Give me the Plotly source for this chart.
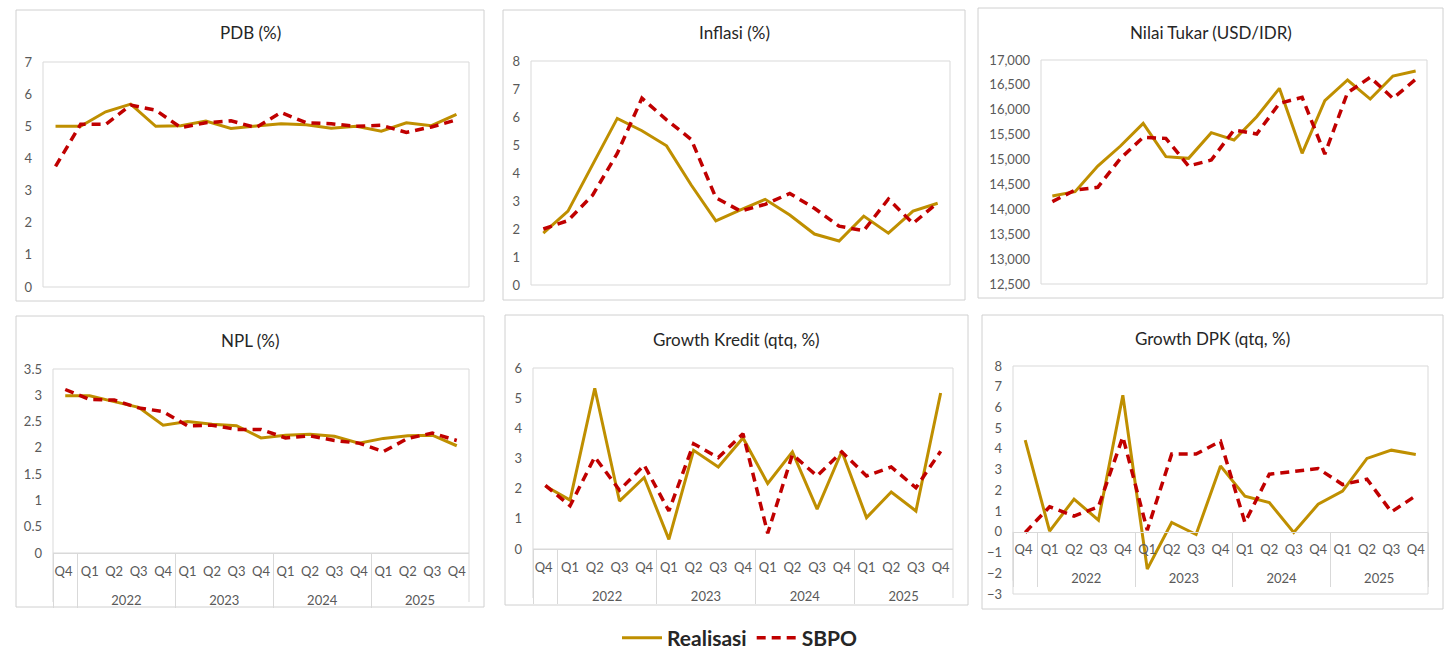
import plotly.graph_objects as go

W, H = 1449, 649

quarters = ["Q4 ", "Q1", "Q2", "Q3", "Q4", "Q1", "Q2", "Q3", "Q4",
            "Q1", "Q2", "Q3", "Q4", "Q1", "Q2", "Q3", "Q4"]
years = [" ", "2022", "2022", "2022", "2022", "2023", "2023", "2023", "2023",
         "2024", "2024", "2024", "2024", "2025", "2025", "2025", "2025"]

pdb_real = [5.00, 5.00, 5.45, 5.69, 5.00, 5.02, 5.16, 4.93, 5.01, 5.08, 5.05, 4.94, 5.00, 4.85, 5.11, 5.02, 5.37]
pdb_sbpo = [3.75, 5.06, 5.06, 5.66, 5.50, 4.96, 5.11, 5.17, 4.96, 5.43, 5.11, 5.08, 5.00, 5.03, 4.81, 4.98, 5.20]

inf_real = [1.85, 2.64, 4.30, 5.95, 5.51, 4.97, 3.57, 2.29, 2.68, 3.06, 2.50, 1.82, 1.57, 2.46, 1.85, 2.64, 2.92]
inf_sbpo = [2.00, 2.30, 3.21, 4.70, 6.67, 5.90, 5.20, 3.12, 2.64, 2.88, 3.27, 2.74, 2.10, 1.94, 3.07, 2.20, 2.94]

fx_real = [14267, 14354, 14870, 15272, 15727, 15058, 15024, 15540, 15393, 15861, 16431, 15125, 16183, 16598, 16216, 16678, 16779]
fx_sbpo = [14154, 14388, 14442, 15024, 15446, 15426, 14870, 14990, 15594, 15513, 16129, 16250, 15111, 16343, 16652, 16230, 16611]

npl_real = [2.99, 2.99, 2.88, 2.77, 2.43, 2.50, 2.45, 2.42, 2.19, 2.24, 2.26, 2.22, 2.09, 2.18, 2.23, 2.24, 2.04]
npl_sbpo = [3.11, 2.92, 2.91, 2.76, 2.69, 2.42, 2.43, 2.35, 2.35, 2.19, 2.23, 2.14, 2.09, 1.93, 2.18, 2.28, 2.14]

kre_real = [2.09, 1.62, 5.33, 1.59, 2.37, 0.32, 3.27, 2.72, 3.68, 2.17, 3.22, 1.32, 3.24, 1.04, 1.89, 1.26, 5.17]
kre_sbpo = [2.11, 1.43, 3.05, 1.95, 2.78, 1.26, 3.49, 3.03, 3.82, 0.52, 3.13, 2.42, 3.22, 2.42, 2.72, 2.03, 3.24]

dpk_real = [4.42, 0.03, 1.58, 0.56, 6.59, -1.80, 0.45, -0.13, 3.18, 1.72, 1.41, -0.03, 1.33, 1.96, 3.54, 3.94, 3.73]
dpk_sbpo = [-0.03, 1.21, 0.76, 1.21, 4.58, 0.08, 3.75, 3.75, 4.37, 0.45, 2.78, 2.93, 3.05, 2.28, 2.54, 0.96, 1.74]

titles = ["PDB (%)", "Inflasi (%)", "Nilai Tukar (USD/IDR)", "NPL (%)", "Growth Kredit (qtq, %)", "Growth DPK (qtq, %)"]
series = [(pdb_real, pdb_sbpo), (inf_real, inf_sbpo), (fx_real, fx_sbpo),
          (npl_real, npl_sbpo), (kre_real, kre_sbpo), (dpk_real, dpk_sbpo)]
yranges = [(0, 7, 1), (0, 8, 1), (12500, 17000, 500), (0, 3.5, 0.5), (0, 6, 1), (-3, 8, 1)]

# layout in pixels: plot area (x0, x1, ytop, ybottom), panel box (x0, x1, ytop, ybottom), title y
plot_px = [(43, 469, 62, 287), (531, 950, 61, 285), (1041, 1427, 60, 284),
           (53, 469, 369, 553), (533, 953, 368, 549), (1013, 1428, 366, 594)]
box_px = [(16, 484, 10, 301), (503, 965, 10, 300), (978, 1443, 8, 298),
          (16, 484, 316, 607), (505, 968, 315, 605), (982, 1443, 315, 609)]
title_y = [33, 33, 32, 340, 339, 338]
divider_depth_px = 49

FONT = "Lato"
GOLD = "#BF8F00"
RED = "#C00000"
GREY_TXT = "#595959"
BORDER = "#D9D9D9"

# year labels drawn one line lower than the quarter row (as in the Excel layout)
year_labels = [y if y.strip() == "" else "<br>" + y for y in years]

fig = go.Figure()
shapes = []
annotations = []

for i in range(6):
    n = i + 1
    xa = "x" if n == 1 else f"x{n}"
    ya = "y" if n == 1 else f"y{n}"
    real, sbpo = series[i]
    xcat = [year_labels, quarters]
    fig.add_trace(go.Scatter(x=xcat, y=real, mode="lines", name="Realisasi",
                             line=dict(color=GOLD, width=3), xaxis=xa, yaxis=ya,
                             showlegend=(i == 0), legendrank=1))
    fig.add_trace(go.Scatter(x=xcat, y=sbpo, mode="lines", name="SBPO",
                             line=dict(color=RED, width=3.5, dash="9px,6px"), xaxis=xa, yaxis=ya,
                             showlegend=(i == 0), legendrank=2))
    px0, px1, pyt, pyb = plot_px[i]
    xdom = [px0 / W, px1 / W]
    ydom = [1 - pyb / H, 1 - pyt / H]
    lo, hi, step = yranges[i]
    bottom_row = i >= 3
    xaxis = dict(domain=xdom, type="multicategory", tickangle=0, automargin=False,
                 range=[-0.5, len(quarters) - 0.5],
                 showticklabels=bottom_row, showgrid=False, zeroline=False,
                 showline=False, ticks="", showdividers=bottom_row,
                 dividercolor=BORDER, dividerwidth=1, ticklabelstandoff=6,
                 tickfont=dict(family=FONT, size=13, color=GREY_TXT),
                 fixedrange=True)
    zero_frac = (0 - lo) / (hi - lo)
    if i == 5:
        xaxis["anchor"] = "free"
        xaxis["position"] = ydom[0] + (ydom[1] - ydom[0]) * zero_frac
        xaxis["showline"] = True
        xaxis["linecolor"] = BORDER
        xaxis["linewidth"] = 1
    else:
        xaxis["anchor"] = ya
        if bottom_row:
            xaxis["showline"] = True
            xaxis["linecolor"] = BORDER
    yaxis = dict(domain=ydom, anchor=xa, range=[lo, hi], dtick=step, tick0=lo,
                 showgrid=False, zeroline=False, showline=False, ticks="", automargin=False,
                 tickfont=dict(family=FONT, size=13, color=GREY_TXT),
                 tickformat="," if i == 2 else "", ticklabelstandoff=10,
                 fixedrange=True)
    key = "" if n == 1 else str(n)
    fig.update_layout(**{f"xaxis{key}": xaxis, f"yaxis{key}": yaxis})
    # plot-area border
    shapes.append(dict(type="rect", xref=f"{xa} domain", yref=f"{ya} domain",
                       x0=0, x1=1, y0=0, y1=1, line=dict(color=BORDER, width=1), layer="below"))
    # outer edge dividers of the category axis
    if bottom_row:
        depth = divider_depth_px / (pyb - pyt)
        for ex in (0, 1):
            shapes.append(dict(type="line", xref=f"{xa} domain", yref=f"{ya} domain",
                               x0=ex, x1=ex, y0=zero_frac, y1=zero_frac - depth,
                               line=dict(color=BORDER, width=1), layer="below"))
    # panel box
    bx0, bx1, byt, byb = box_px[i]
    shapes.append(dict(type="rect", xref="paper", yref="paper",
                       x0=bx0 / W, x1=bx1 / W, y0=1 - byb / H, y1=1 - byt / H,
                       line=dict(color="#D0D0D0", width=1), layer="below"))
    annotations.append(dict(text=titles[i], xref="paper", yref="paper",
                            x=(bx0 + bx1) / 2 / W, y=1 - title_y[i] / H,
                            xanchor="center", yanchor="middle", showarrow=False,
                            font=dict(family=FONT, size=17, color="#262626")))

fig.update_layout(
    width=W, height=H,
    margin=dict(l=0, r=0, t=0, b=0, autoexpand=False),
    paper_bgcolor="white", plot_bgcolor="white",
    shapes=shapes, annotations=annotations,
    showlegend=True,
    legend=dict(orientation="h", x=740 / W, xanchor="center", y=1 - 638 / H, yanchor="middle",
                font=dict(family=FONT, size=21, color="#262626", weight="bold"),
                itemwidth=40, traceorder="normal", bgcolor="rgba(0,0,0,0)"),
)

fig.write_html("out.html", config={"displayModeBar": False},
               post_script="document.body.style.margin='0';document.body.style.padding='0';")
